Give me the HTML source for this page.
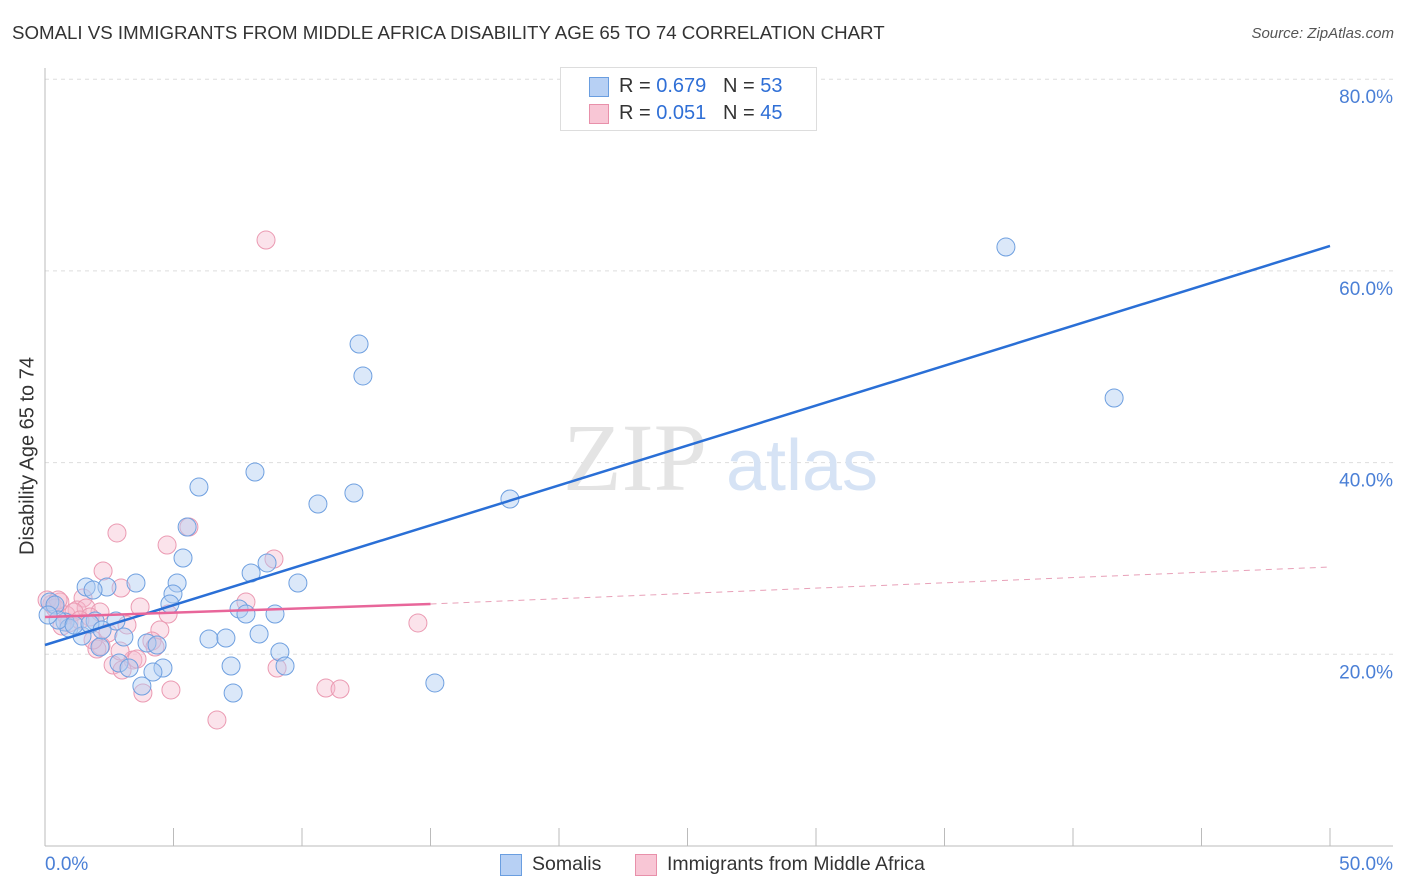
<!DOCTYPE html>
<html><head><meta charset="utf-8"><style>
body{margin:0;background:#fff;font-family:"Liberation Sans",sans-serif;}
#c{position:relative;width:1406px;height:892px;overflow:hidden;}
.t{position:absolute;white-space:nowrap;}
</style></head><body>
<div id="c">
<div class="t" style="left:12px;top:22px;font-size:18.7px;color:#333;">SOMALI VS IMMIGRANTS FROM MIDDLE AFRICA DISABILITY AGE 65 TO 74 CORRELATION CHART</div>
<div class="t" style="right:12px;top:25px;font-size:15px;color:#555;font-style:italic;">Source: ZipAtlas.com</div>
<div class="t" style="left:28px;top:456px;font-size:20px;color:#333;transform:translate(-50%,-50%) rotate(-90deg);">Disability Age 65 to 74</div>
<svg id="s" width="1406" height="892" style="position:absolute;left:0;top:0"></svg>
<div style="position:absolute;left:560px;top:67px;width:255px;height:62px;border:1px solid #ddd;background:#fff;font-size:20px;color:#333;">
<div style="position:absolute;left:28px;top:9px;width:18px;height:18px;background:#b7d0f4;border:1px solid #6a9ee0;"></div>
<div class="t" style="left:58px;top:7px;">R = <span style="color:#2f6fd6">0.679</span>&nbsp;&nbsp;&nbsp;N = <span style="color:#2f6fd6">53</span></div>
<div style="position:absolute;left:28px;top:36px;width:18px;height:18px;background:#f8c6d5;border:1px solid #e890aa;"></div>
<div class="t" style="left:58px;top:34px;">R = <span style="color:#2f6fd6">0.051</span>&nbsp;&nbsp;&nbsp;N = <span style="color:#2f6fd6">45</span></div>
</div>
<div style="position:absolute;left:500px;top:853px;font-size:19.5px;color:#333;">
<div style="position:absolute;left:0;top:1px;width:20px;height:20px;background:#b7d0f4;border:1px solid #6a9ee0;"></div>
<div class="t" style="left:32px;top:0;">Somalis</div>
<div style="position:absolute;left:135px;top:1px;width:20px;height:20px;background:#f8c6d5;border:1px solid #e890aa;"></div>
<div class="t" style="left:167px;top:0;">Immigrants from Middle Africa</div>
</div>
</div>
<script>
const yTicks=[20,40,60,80];
const yTickLabels=["20.0%","40.0%","60.0%","80.0%"];
const xTicks=[0,5,10,15,20,25,30,35,40,45,50];
const blueX=[37.39,41.60,12.22,12.37,8.17,5.99,12.02,10.62,18.09,5.53,5.37,3.54,5.14,1.60,2.41,1.87,4.98,4.86,9.84,8.64,8.02,7.55,7.82,8.95,2.76,1.95,0.78,0.93,1.44,3.07,3.97,4.36,6.38,7.04,8.33,9.14,7.24,9.34,2.88,3.27,4.59,4.20,3.77,7.32,15.17,0.19,0.39,0.51,0.12,2.14,1.13,1.75,2.22];
const blueY=[62.49,46.74,52.37,49.04,39.02,37.45,36.83,35.68,36.20,33.28,30.05,27.44,27.44,27.02,27.02,26.71,26.29,25.25,27.44,29.53,28.48,24.73,24.20,24.20,23.47,23.47,23.37,22.74,21.91,21.80,21.18,20.97,21.60,21.70,22.12,20.24,18.78,18.78,19.09,18.57,18.57,18.15,16.69,15.96,17.01,25.46,25.14,23.58,24.10,20.76,23.06,23.16,22.54];
const pinkX=[8.60,2.80,5.60,4.75,8.91,2.26,2.96,1.48,3.70,0.58,0.27,0.08,1.25,1.60,2.14,1.75,0.82,4.79,7.82,14.51,2.45,3.19,4.47,2.18,2.02,4.16,3.42,3.58,2.65,3.00,9.03,3.81,4.90,10.93,11.48,6.69,4.28,0.93,0.66,0.39,1.13,1.87,2.92,0.51,1.36];
const pinkY=[63.22,32.66,33.28,31.40,29.94,28.69,26.92,25.87,24.94,25.46,25.25,25.67,24.62,24.83,24.41,23.89,24.10,24.20,25.46,23.27,22.22,23.06,22.54,20.87,20.55,21.39,19.41,19.51,18.88,18.36,18.57,15.96,16.28,16.48,16.38,13.15,20.76,23.27,22.95,24.83,24.41,21.49,20.34,25.67,23.58];
const blueTrend=[[0,20.97],[50,62.6]];
const pinkTrendSolid=[[0,23.89],[15,25.25]];
const pinkTrendDash=[[15,25.25],[50,29.11]];
const X=v=>45+v*(1285/50);
const Y=v=>846-v*(191.7/20);
const s=document.getElementById('s');
const NS='http://www.w3.org/2000/svg';
function mk(t,a){const e=document.createElementNS(NS,t);for(const k in a)e.setAttribute(k,a[k]);s.appendChild(e);return e;}
yTicks.forEach((v,i)=>{
 const g=mk('line',{x1:45,x2:1393,y1:Y(v),y2:Y(v),stroke:'#ddd','stroke-dasharray':'4,4'});
 
 
 const t=mk('text',{x:1393,y:Y(v)+24,'text-anchor':'end','font-size':19,fill:'#4a7fd6','font-family':'Liberation Sans'});
 t.textContent=yTickLabels[i];
 
 
});
const ax=mk('line',{x1:45,x2:45,y1:68,y2:846,stroke:'#bbb'});


const bx=mk('line',{x1:45,x2:1393,y1:846,y2:846,stroke:'#bbb'});


xTicks.forEach(v=>{
 const k=mk('line',{x1:X(v),x2:X(v),y1:828,y2:846,stroke:'#bbb'});
 
 
});
const xl=mk('text',{x:45,y:870,'font-size':19,fill:'#4a7fd6','font-family':'Liberation Sans'});xl.textContent='0.0%';


const xr=mk('text',{x:1393,y:870,'text-anchor':'end','font-size':19,fill:'#4a7fd6','font-family':'Liberation Sans'});xr.textContent='50.0%';


const w1=mk('text',{x:635,y:490,'text-anchor':'middle','font-size':96,fill:'#e4e4e4','font-family':'Liberation Serif'});w1.textContent='ZIP';


const w2=mk('text',{x:802,y:490,'text-anchor':'middle','font-size':72,fill:'#d6e3f5','font-family':'Liberation Sans'});w2.textContent='atlas';


pinkX.forEach((x,i)=>{
 const c=mk('circle',{cx:X(x),cy:Y(pinkY[i]),r:9,fill:'rgba(246,185,205,0.4)',stroke:'#eb9ab2','stroke-width':1});
 
 
});
blueX.forEach((x,i)=>{
 const c=mk('circle',{cx:X(x),cy:Y(blueY[i]),r:9,fill:'rgba(175,205,242,0.45)',stroke:'#6fa0e0','stroke-width':1});
 
 
});
const l1=mk('line',{x1:X(blueTrend[0][0]),y1:Y(blueTrend[0][1]),x2:X(blueTrend[1][0]),y2:Y(blueTrend[1][1]),stroke:'#2a6fd6','stroke-width':2.5});


const l2=mk('line',{x1:X(pinkTrendSolid[0][0]),y1:Y(pinkTrendSolid[0][1]),x2:X(pinkTrendSolid[1][0]),y2:Y(pinkTrendSolid[1][1]),stroke:'#e8669a','stroke-width':2.5});


const l3=mk('line',{x1:X(pinkTrendDash[0][0]),y1:Y(pinkTrendDash[0][1]),x2:X(pinkTrendDash[1][0]),y2:Y(pinkTrendDash[1][1]),stroke:'#e8a0b8','stroke-width':1,'stroke-dasharray':'6,5'});


</script>
</body></html>
